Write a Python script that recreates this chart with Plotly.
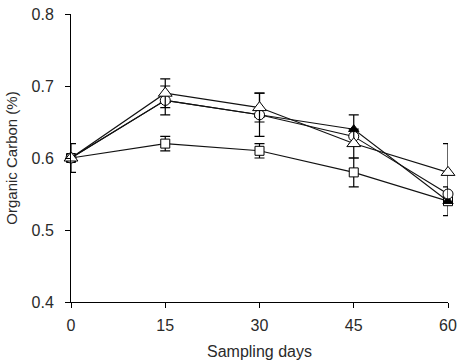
import plotly.graph_objects as go

days = [0, 15, 30, 45, 60]
square_vals = [0.60, 0.62, 0.61, 0.58, 0.54]
square_err = [0.02, 0.01, 0.01, 0.02, 0.02]
tri_open_vals = [0.60, 0.69, 0.67, 0.62, 0.58]
tri_open_err = [0.0, 0.02, 0.02, 0.02, 0.04]
circle_vals = [0.60, 0.68, 0.66, 0.63, 0.55]
circle_err = [0.0, 0.0, 0.03, 0.0, 0.0]
tri_fill_vals = [0.60, 0.68, 0.66, 0.64, 0.54]
tri_fill_err = [0.0, 0.02, 0.0, 0.02, 0.0]

x_ticks = [0, 15, 30, 45, 60]
y_ticks = [0.4, 0.5, 0.6, 0.7, 0.8]

fig = go.Figure()

def add(vals, err, symbol, size, color, fill):
    fig.add_trace(go.Scatter(
        x=days, y=vals, mode="lines+markers",
        line=dict(color="#111111", width=1.1),
        marker=dict(symbol=symbol, size=size, color=fill,
                    line=dict(color=color, width=1)),
        error_y=dict(type="data", array=err, visible=True,
                     color="#000000", thickness=1.2, width=5),
        cliponaxis=False, showlegend=False))

add(square_vals, square_err, "square", 9, "#000000", "white")
add(tri_fill_vals, tri_fill_err, "triangle-up", 9, "#000000", "black")
add(circle_vals, circle_err, "circle", 10, "#000000", "white")
add(tri_open_vals, tri_open_err, "triangle-up", 12, "#000000", "white")

fig.update_layout(
    width=458, height=364,
    margin=dict(l=71, r=10, t=14, b=62),
    paper_bgcolor="white", plot_bgcolor="white",
    font=dict(family="Liberation Sans, Arial, sans-serif", color="#2a2a2a"),
    xaxis=dict(range=[0, 60], tickvals=x_ticks, ticktext=[str(t) for t in x_ticks],
               showgrid=False, zeroline=False, showline=True, linecolor="black",
               linewidth=1, ticks="outside", ticklen=5, tickcolor="black",
               automargin=False, ticklabelstandoff=4,
               tickfont=dict(size=16), title=dict(text="Sampling days", font=dict(size=16), standoff=12)),
    yaxis=dict(range=[0.4, 0.8], tickvals=y_ticks, ticktext=[f"{t:.1f}" for t in y_ticks],
               showgrid=False, zeroline=False, showline=True, linecolor="black",
               linewidth=1, ticks="outside", ticklen=5, tickcolor="black",
               automargin=False, ticklabelstandoff=8,
               tickfont=dict(size=16), title=dict(text="Organic Carbon (%)", font=dict(size=15), standoff=10)),
)

fig.write_html("out.html", config={"displayModeBar": False},
               post_script="document.body.style.margin='0';document.body.style.overflow='hidden';")
